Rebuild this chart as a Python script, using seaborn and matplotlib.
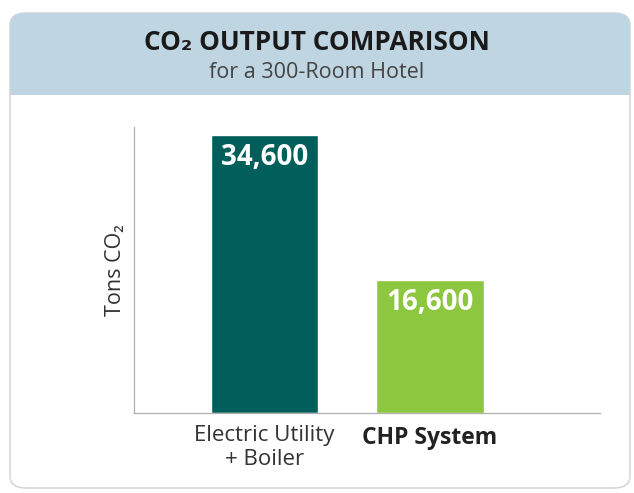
import matplotlib
matplotlib.use("Agg")
import seaborn as sns
import matplotlib.pyplot as plt
import pandas as pd
from matplotlib.patches import FancyBboxPatch, Rectangle

# chart data
categories = ["Electric Utility\n+ Boiler", "CHP System"]
tons_co2 = [34600, 16600]
value_labels = ["34,600", "16,600"]
bar_colors = ["#005f5a", "#8dc63f"]

sns.set_style("white")
plt.rcParams["font.family"] = ["Open Sans", "DejaVu Sans"]

fig = plt.figure(figsize=(6.34, 4.93), dpi=100)

# rounded outer panel with blue header band
panel = FancyBboxPatch((10 / 634, 5 / 493), 620 / 634, 475 / 493,
                       boxstyle="round,pad=0,rounding_size=0.025",
                       transform=fig.transFigure, facecolor="white",
                       edgecolor="#d5d9dc", linewidth=1.2, zorder=0)
fig.patches.append(panel)
header = FancyBboxPatch((10 / 634, 398 / 493), 620 / 634, 82 / 493,
                        boxstyle="round,pad=0,rounding_size=0.025",
                        transform=fig.transFigure, facecolor="#bfd6e2",
                        edgecolor="none", zorder=1)
fig.patches.append(header)
fig.patches.append(Rectangle((10 / 634, 398 / 493), 620 / 634, 20 / 493,
                             transform=fig.transFigure, facecolor="#bfd6e2",
                             edgecolor="none", zorder=1))

fig.text(0.5, 1 - 42 / 493, "CO₂ OUTPUT COMPARISON", ha="center", va="center",
         fontsize=18.8, fontweight="bold", color="#1a1a1a")
fig.text(0.5, 1 - 72 / 493, "for a 300-Room Hotel", ha="center", va="center",
         fontsize=15.5, color="#444444")

ax = fig.add_axes([134 / 634, 80 / 493, 466 / 634, 286 / 493])
ax.set_zorder(3)
ax.patch.set_alpha(0)
df = pd.DataFrame({"category": categories, "tons": tons_co2})
sns.barplot(data=df, x="category", y="tons", hue="category",
            palette=bar_colors, width=0.65, legend=False, ax=ax,
            saturation=1)

ax.set_xlim(-0.79, 2.03)
ax.set_ylim(0, 35600)
ax.set_yticks([])
ax.set_xlabel("")
ax.set_ylabel("Tons CO₂", fontsize=15.5, color="#333333", labelpad=6)
for side in ["top", "right"]:
    ax.spines[side].set_visible(False)
for side in ["left", "bottom"]:
    ax.spines[side].set_color("#b0b0b0")
    ax.spines[side].set_linewidth(0.9)

ax.tick_params(axis="x", length=0, pad=9)
labels = ax.get_xticklabels()
labels[0].set_fontsize(16)
labels[0].set_color("#333333")
labels[0].set_linespacing(1.15)
labels[1].set_fontsize(16.5)
labels[1].set_fontweight("bold")
labels[1].set_color("#222222")

for i, (v, lab) in enumerate(zip(tons_co2, value_labels)):
    ax.text(i, v - 1000, lab, ha="center", va="top", color="white",
            fontsize=20, fontweight="bold")

fig.savefig("out.png", dpi=100)
